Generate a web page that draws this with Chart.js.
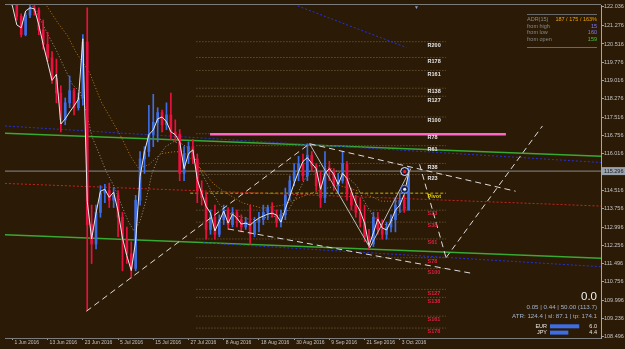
<!DOCTYPE html>
<html>
<head>
<meta charset="utf-8">
<script src="https://cdn.jsdelivr.net/npm/chart.js@4.4.1/dist/chart.umd.min.js"></script>
<style>
  html, body { margin: 0; padding: 0; background: #2b1a05; }
</style>
</head>
<body>
<canvas id="chart" width="625" height="349"></canvas>
<script>
// EURJPY daily, bar 0 = 31 May 2016, bar 91 = 5 Oct 2016
const opens  = [123.6, 123.3, 122.3, 121.65, 120.9, 121.7, 122.0, 121.9, 121.1, 120.5, 119.95, 119.1, 118.5, 117.4, 118.1, 118.6, 117.9, 118.3, 120.6, 113.1,
                112.3, 113.6, 114.4, 114.5, 114.1, 114.3, 113.4, 112.5, 111.9, 111.3, 114.1, 115.8, 116.1, 116.8, 117.3, 117.7, 117.2, 117.6, 116.9, 116.8,
                115.2, 116.0, 116.3, 115.8, 114.5, 114.2, 112.9, 113.4, 112.7, 113.3, 113.7, 113.1, 113.6, 113.3, 113.0, 113.2, 112.7, 113.2, 113.3, 113.6,
                113.8, 113.5, 113.2, 113.5, 114.3, 114.9, 115.3, 115.6, 115.1, 115.95, 115.5, 114.7, 114.2, 115.4, 115.3, 114.7, 114.9, 115.6, 114.35, 113.9,
                113.6, 113.2, 112.6, 112.3, 113.4, 112.9, 112.7, 113.0, 113.3, 113.9, 114.1, 113.7];
const highs  = [123.9, 123.5, 122.4, 121.75, 121.8, 122.15, 122.2, 122.0, 121.5, 121.0, 120.2, 119.9, 118.8, 118.3, 119.2, 118.7, 118.5, 120.9, 122.0, 113.9,
                113.9, 114.7, 114.75, 114.8, 114.6, 114.5, 113.6, 113.0, 112.4, 114.3, 116.1, 116.3, 118.0, 118.45, 117.9, 117.8, 118.1, 118.5, 117.4, 117.0,
                116.3, 116.5, 116.6, 116.0, 114.9, 114.4, 113.7, 113.9, 113.5, 113.9, 113.8, 113.8, 113.7, 113.5, 113.4, 113.9, 113.4, 113.6, 113.9, 113.9,
                114.0, 113.7, 113.7, 114.6, 115.1, 115.6, 115.9, 116.0, 116.42, 116.1, 115.6, 115.3, 116.1, 115.7, 115.4, 115.2, 116.1, 115.7, 114.6, 114.3,
                114.2, 113.9, 112.9, 113.6, 113.6, 113.3, 113.2, 113.5, 114.2, 114.4, 114.3, 115.44];
const lows   = [123.1, 122.1, 121.5, 120.8, 120.85, 121.6, 121.7, 120.9, 120.3, 119.8, 118.9, 118.1, 116.9, 117.2, 117.9, 117.6, 117.8, 118.0, 109.57, 111.5,
                112.1, 113.4, 114.0, 113.8, 113.8, 112.6, 111.2, 111.5, 110.9, 111.2, 113.9, 115.2, 115.9, 116.3, 116.5, 116.9, 117.0, 116.6, 116.5, 114.9,
                114.9, 115.6, 115.6, 114.0, 113.9, 112.5, 112.7, 112.5, 112.6, 113.1, 112.9, 113.0, 113.0, 112.8, 112.9, 112.3, 112.6, 112.8, 113.1, 113.3,
                113.4, 113.0, 113.0, 113.3, 114.1, 114.7, 114.9, 114.9, 114.9, 115.3, 114.5, 113.8, 114.0, 114.9, 114.5, 114.4, 114.8, 114.1, 113.7, 113.4,
                113.0, 112.4, 112.1, 112.2, 112.7, 112.5, 112.5, 112.8, 112.8, 113.6, 113.6, 113.69];
const closes = [123.3, 122.3, 121.65, 120.9, 121.7, 122.0, 121.9, 121.1, 120.5, 119.95, 119.1, 118.5, 117.4, 118.1, 118.6, 117.9, 118.3, 120.6, 113.1, 112.3,
                113.6, 114.4, 114.5, 114.1, 114.3, 113.4, 112.5, 111.9, 111.3, 114.1, 115.8, 116.1, 116.8, 117.3, 117.7, 117.2, 117.6, 116.9, 116.8, 115.2,
                116.0, 116.3, 115.8, 114.5, 114.2, 112.9, 113.4, 112.7, 113.3, 113.7, 113.1, 113.6, 113.3, 113.0, 113.2, 112.7, 113.2, 113.3, 113.6, 113.8,
                113.5, 113.2, 113.5, 114.3, 114.9, 115.3, 115.6, 115.1, 115.95, 115.5, 114.7, 114.2, 115.4, 115.3, 114.7, 114.9, 115.6, 114.35, 113.9, 113.6,
                113.2, 112.6, 112.3, 113.4, 112.9, 112.7, 113.0, 113.3, 113.9, 114.1, 113.7, 115.3];

// white smoothed price line, one value per bar
const smoothLine = [122.4, 122.08, 121.30, 121.18, 121.87, 122.0, 121.96, 121.30, 120.49, 119.76, 119.02, 119.27, 117.23, 117.44, 117.72, 117.97, 118.25, 120.73, 114.06, 112.51,
                    113.57, 114.47, 114.55, 114.22, 114.43, 113.65, 112.55, 111.82, 111.21, 112.43, 115.08, 116.09, 116.79, 116.99, 117.44, 117.52, 117.32, 116.91, 116.79, 116.50,
                    115.40, 116.01, 116.17, 114.95, 114.38, 113.85, 113.57, 112.84, 113.24, 113.65, 113.16, 113.53, 113.37, 113.12, 113.16, 113.08, 113.24, 113.37, 113.45, 113.53,
                    113.57, 113.49, 113.20, 113.73, 114.26, 114.79, 115.28, 115.69, 115.85, 115.61, 115.40, 114.55, 115.20, 115.40, 115.16, 114.75, 115.20, 114.99, 114.47, 113.98,
                    113.65, 113.16, 112.23, 112.76, 113.33, 112.96, 112.88, 113.24, 113.69, 113.90, 114.34, 115.20];

// moving averages (bar position, price)
const grayMaX = [5.6, 7.4, 9.2, 11.0, 12.8, 14.6, 16.4, 17.8, 19.1, 20.7, 22.3, 24.1, 25.7, 27.3, 28.6, 30.0, 31.3, 32.7, 34.2, 35.8, 37.6, 39.4, 41.2, 42.8, 44.4,
                 46.2, 48.0, 50.0, 52.3, 54.5, 56.8, 59.0, 61.3, 63.5, 65.3, 66.9, 68.7, 70.5, 72.5, 74.8, 77.0, 79.3, 80.9, 82.7, 84.5, 86.3, 88.3, 90.5];
const grayMaY = [122.08, 121.51, 120.86, 120.25, 119.55, 118.86, 118.54, 117.72, 116.70, 116.01, 115.28, 114.67, 113.94, 113.24, 112.84, 113.24, 114.06, 115.20, 115.89, 116.30,
                 116.50, 116.42, 116.22, 115.69, 115.08, 114.47, 113.94, 113.57, 113.45, 113.33, 113.29, 113.41, 113.45, 113.65, 114.18, 114.79, 115.36, 115.52, 115.48, 115.28,
                 115.08, 114.67, 114.06, 113.53, 113.16, 113.08, 113.45, 113.85];
const orangeMaX = [8.8, 11.3, 13.5, 15.5, 18.5, 21.2, 23.4, 25.7, 27.9, 29.7, 32.0, 34.7, 37.6, 39.9, 42.1, 44.4, 46.6, 48.9, 53.4, 57.9, 62.4, 66.9, 71.4, 75.2, 79.7, 84.9, 89.4];
const orangeMaY = [122.08, 121.39, 120.86, 120.16, 119.35, 118.13, 117.44, 116.70, 115.89, 115.40, 115.56, 116.01, 116.09, 116.09, 115.69, 115.28, 114.79, 114.47, 113.98, 113.77,
                   113.90, 114.26, 114.55, 114.71, 114.47, 114.06, 114.06];

// fibonacci pivot levels
const levelNames  = ['R200', 'R178', 'R161', 'R138', 'R127', 'R100', 'R78', 'R61', 'R38', 'R23', 'Pivot',
                     'S23', 'S38', 'S61', 'S78', 'S100', 'S127', 'S138', 'S161', 'S178'];
const levelValues = [120.61, 119.96, 119.43, 118.70, 118.37, 117.52, 116.83, 116.34, 115.61, 115.16, 114.39,
                     113.69, 113.20, 112.51, 111.74, 111.29, 110.44, 110.11, 109.34, 108.85];

// drawn objects: [bar position, price] end points
const greenUpper = [[-0.7, 116.85], [134.7, 115.91]];
const greenLower = [[-0.7, 112.68], [134.7, 111.72]];
const blueUpper  = [[-0.7, 117.15], [134.7, 115.65]];
const blueLower  = [[44.4, 112.35], [134.7, 111.37]];
const blueTop    = [[65.8, 122.08], [90.5, 120.37]];
const redLine    = [[-0.7, 114.79], [134.7, 113.86]];
const pinkLine   = [[45.9, 116.81], [113.1, 116.81]];
const trendUp    = [[17.8, 109.54], [68.5, 116.42]];
const channelTop = [[68.5, 116.42], [115.3, 114.47]];
const channelLow = [[50.0, 112.92], [105.6, 111.09]];
const projDown   = [[93.5, 115.57], [99.5, 111.74]];
const projUp     = [[99.5, 111.74], [121.4, 117.15]];
const zigzag     = [[68.5, 116.42], [82.2, 112.15], [91.5, 115.40]];
const markers    = [[90.1, 115.28], [90.1, 114.55]];

const dateTicks  = [1, 9, 17, 25, 33, 41, 49, 57, 65, 73, 81, 89];
const dateLabels = ['1 Jun 2016', '13 Jun 2016', '23 Jun 2016', '5 Jul 2016', '15 Jul 2016', '27 Jul 2016',
                    '8 Aug 2016', '18 Aug 2016', '30 Aug 2016', '9 Sep 2016', '21 Sep 2016', '3 Oct 2016'];
const priceTicks = [122.036, 121.276, 120.516, 119.776, 119.016, 118.276, 117.516, 116.756, 116.016,
                    114.516, 113.756, 112.996, 112.256, 111.496, 110.756, 109.996, 109.236, 108.496];
const lastPrice = 115.296;

const adrLabels = ['ADR(15)', 'from high', 'from low', 'from open'];
const adrValues = ['187 / 175 / 163%', '15', '160', '159'];
const statLines = ['0.05 | 0.44 | 50.00 (113.7)', 'ATR: 124.4 | sl: 87.1 | tp: 174.1'];
const strengthNames  = ['EUR', 'JPY'];
const strengthValues = [6.0, 4.4];

const BG = '#2b1a05';
const BULL = '#3c6ee8';
const BEAR = '#ec1040';
const FONT = '"Liberation Sans", Arial, sans-serif';

// level lines start / end and label column (bar positions)
const levelFrom = 42.8, pivotFrom = 41.4, levelTo = 99.5, levelLabelAt = 95.3;

function line(points, color, width, dash, order) {
    return {
        type: 'line',
        data: points.map(p => ({ x: p[0], y: p[1] })),
        borderColor: color,
        borderWidth: width,
        borderDash: dash || [],
        pointRadius: 0,
        fill: false,
        tension: 0,
        order: order
    };
}

const datasets = [];

levelValues.forEach((v, k) => {
    const pivot = levelNames[k] === 'Pivot';
    datasets.push(line([[pivot ? pivotFrom : levelFrom, v], [levelTo, v]],
        pivot ? '#c8b400' : '#7a6848', 1, pivot ? [3, 2] : [1, 2], 20));
});

datasets.push(line(greenUpper, '#38aa34', 1.5, [], 18));
datasets.push(line(greenLower, '#38aa34', 1.5, [], 18));
datasets.push(line(blueUpper, '#2432d8', 1, [2, 2], 17));
datasets.push(line(blueLower, '#2432d8', 1, [2, 2], 17));
datasets.push(line(blueTop, '#2432d8', 1, [2, 2], 17));
datasets.push(line(redLine, '#d02020', 1, [2, 2], 17));
datasets.push(line([[-0.7, lastPrice], [134.7, lastPrice]], '#8a8a8a', 1, [], 16));

datasets.push(line(orangeMaX.map((x, k) => [x, orangeMaY[k]]), '#c07a12', 1, [1, 2], 12));
datasets.push(line(grayMaX.map((x, k) => [x, grayMaY[k]]), '#9a968a', 1, [1, 2], 12));

const candleColors = opens.map((o, k) => closes[k] >= o ? BULL : BEAR);
datasets.push({
    type: 'bar',
    data: lows.map((l, k) => ({ x: k, y: [l, highs[k]] })),
    backgroundColor: candleColors,
    barThickness: 1,
    grouped: false,
    order: 9
});
datasets.push({
    type: 'bar',
    data: opens.map((o, k) => ({ x: k, y: [o, closes[k]] })),
    backgroundColor: candleColors,
    barThickness: 2,
    minBarLength: 1,
    grouped: false,
    order: 8
});

datasets.push(line(smoothLine.map((v, k) => [k, v]), '#e8e8e8', 1, [], 7));

datasets.push(line(trendUp, '#dcdcdc', 1, [6, 4], 5));
datasets.push(line(channelTop, '#dcdcdc', 1, [6, 4], 5));
datasets.push(line(channelLow, '#dcdcdc', 1, [6, 4], 5));
datasets.push(line(projDown, '#dcdcdc', 1, [6, 4], 5));
datasets.push(line(projUp, '#dcdcdc', 1, [6, 4], 5));
datasets.push(line(zigzag, '#bdbdbd', 1, [], 6));
datasets.push(line(pinkLine, '#ff66c8', 2.5, [], 4));

datasets.push({
    type: 'line',
    data: markers.map(p => ({ x: p[0], y: p[1] })),
    showLine: false,
    pointRadius: 4,
    pointBorderWidth: 1,
    pointBorderColor: ['#e8eeff', '#6f94ff'],
    pointBackgroundColor: 'rgba(20,30,70,0.85)',
    order: 2
});
datasets.push({
    type: 'line',
    data: markers.map(p => ({ x: p[0], y: p[1] })),
    showLine: false,
    pointRadius: 1.6,
    pointBorderWidth: 0,
    pointBackgroundColor: ['#ff2020', '#e8eeff'],
    order: 1
});

const overlay = {
    id: 'overlay',
    beforeDraw(chart) {
        const c = chart.ctx;
        c.save();
        c.fillStyle = BG;
        c.fillRect(0, 0, chart.width, chart.height);
        c.restore();
    },
    afterDatasetsDraw(chart) {
        const { ctx, scales: { x, y } } = chart;
        ctx.save();
        ctx.font = 'bold 5.5px ' + FONT;
        ctx.textBaseline = 'top';
        ctx.textAlign = 'left';
        levelNames.forEach((name, k) => {
            ctx.fillStyle = name === 'Pivot' ? '#e8d400' : name[0] === 'R' ? '#e6e6e6' : '#dc2042';
            ctx.fillText(name, x.getPixelForValue(levelLabelAt), y.getPixelForValue(levelValues[k]) + 1);
        });
        ctx.restore();
    },
    afterDraw(chart) {
        const { ctx, chartArea: a, scales: { x, y } } = chart;
        ctx.save();
        // top frame line
        ctx.strokeStyle = '#7c7c7c';
        ctx.lineWidth = 1;
        ctx.beginPath();
        ctx.moveTo(a.left, a.top - 0.5);
        ctx.lineTo(a.right, a.top - 0.5);
        ctx.stroke();

        // chart shift marker
        ctx.fillStyle = '#8aa0c0';
        ctx.font = '5px ' + FONT;
        ctx.textAlign = 'center';
        ctx.textBaseline = 'top';
        ctx.fillText('\u25BC', x.getPixelForValue(92.8), a.top);

        // last price box
        const py = y.getPixelForValue(lastPrice);
        ctx.fillStyle = '#9aa2ad';
        ctx.fillRect(a.right + 1, py - 4, 24, 8);
        ctx.fillStyle = '#1c1c1c';
        ctx.font = '5.5px ' + FONT;
        ctx.textAlign = 'left';
        ctx.textBaseline = 'middle';
        ctx.fillText(lastPrice.toFixed(3), a.right + 3, py + 0.5);

        // ADR box
        const rx = 597;
        ctx.strokeStyle = '#686868';
        ctx.beginPath();
        ctx.moveTo(527, 14.5); ctx.lineTo(rx, 14.5);
        ctx.moveTo(527, 47.5); ctx.lineTo(rx, 47.5);
        ctx.stroke();
        ctx.font = '5.5px ' + FONT;
        const valColors = ['#f0a400', '#7c7cff', '#7c7cff', '#4cc23c'];
        adrLabels.forEach((t, k) => {
            const ry = 19.5 + k * 6.6;
            ctx.textAlign = 'left';
            ctx.fillStyle = '#8a8a8a';
            ctx.fillText(t, 527, ry);
            ctx.textAlign = 'right';
            ctx.fillStyle = valColors[k];
            ctx.fillText(adrValues[k], rx, ry);
        });

        // bottom right block
        ctx.textAlign = 'right';
        ctx.fillStyle = '#f2f2f2';
        ctx.font = '11.5px ' + FONT;
        ctx.fillText('0.0', rx, 297);
        ctx.font = '6.2px ' + FONT;
        ctx.fillStyle = '#a2b4cc';
        statLines.forEach((t, k) => ctx.fillText(t, rx, 307.5 + k * 9));
        ctx.font = '5.5px ' + FONT;
        strengthNames.forEach((n, k) => {
            const ry = 326.3 + k * 6.3;
            ctx.fillStyle = '#e8e8e8';
            ctx.textAlign = 'right';
            ctx.fillText(n, 547, ry);
            ctx.fillText(strengthValues[k].toFixed(1), rx, ry);
            ctx.fillStyle = '#3c6ee6';
            ctx.fillRect(550, ry - 2, (strengthValues[k] - 1.7) * 6.8, 4);
        });
        ctx.restore();
    }
};

new Chart(document.getElementById('chart'), {
    type: 'bar',
    data: { datasets: datasets },
    options: {
        responsive: false,
        animation: false,
        events: [],
        layout: { padding: { top: 2, left: 0, right: 0, bottom: 0 } },
        plugins: { legend: { display: false }, tooltip: { enabled: false } },
        scales: {
            x: {
                type: 'linear',
                min: -0.68,
                max: 134.7,
                offset: false,
                grid: { offset: false, drawOnChartArea: false, tickLength: 2, color: '#9a9a9a' },
                border: { color: '#7c7c7c' },
                ticks: {
                    autoSkip: false,
                    maxRotation: 0,
                    align: 'start',
                    labelOffset: 2,
                    padding: 0,
                    color: '#c4c4c4',
                    font: { family: FONT, size: 5 },
                    callback: (v, k) => dateLabels[k]
                },
                afterBuildTicks: s => { s.ticks = dateTicks.map(v => ({ value: v })); },
                afterFit: s => { s.height = 11; s.paddingLeft = 0; s.paddingRight = 0; }
            },
            y: {
                type: 'linear',
                position: 'right',
                min: 108.442,
                max: 122.117,
                beginAtZero: false,
                grid: { drawOnChartArea: false, tickLength: 3, color: '#9aa4b0' },
                border: { color: '#9aa8b8' },
                ticks: {
                    autoSkip: false,
                    padding: 0,
                    color: '#c4c4c4',
                    font: { family: FONT, size: 5.5 },
                    callback: v => v.toFixed(3)
                },
                afterBuildTicks: s => { s.ticks = priceTicks.map(v => ({ value: v })); },
                afterFit: s => { s.width = 24; s.paddingTop = 0; s.paddingBottom = 0; }
            }
        }
    },
    plugins: [overlay]
});
</script>
</body>
</html>
